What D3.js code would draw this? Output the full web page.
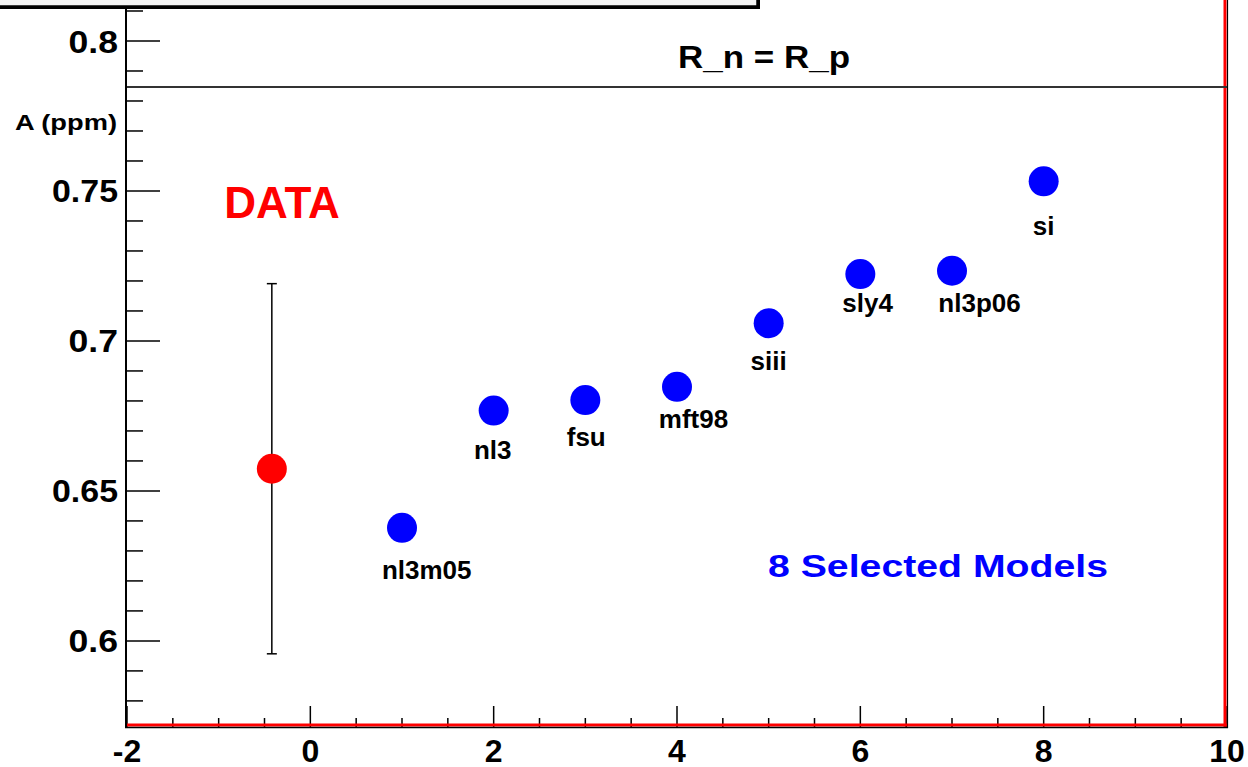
<!DOCTYPE html>
<html>
<head>
<meta charset="utf-8">
<script src="https://cdn.jsdelivr.net/npm/d3@7"></script>
<style>
  body { margin: 0; background: #fff; }
  text { font-family: "Liberation Sans", Arial, Helvetica, sans-serif; font-weight: bold; }
</style>
</head>
<body>
<div id="wrapper"></div>
<script>
// model points
const models = ["nl3m05", "nl3", "fsu", "mft98", "siii", "sly4", "nl3p06", "si"];
const modelX = [1, 2, 3, 4, 5, 6, 7, 8];
const modelA = [0.6377, 0.6768, 0.6803, 0.6847, 0.7059, 0.7223, 0.7234, 0.7532];
// where the model names sit (data units)
const labelX = [1.27, 1.99, 3.01, 4.18, 5.0, 6.08, 7.3, 8.0];
const labelY = [0.6237, 0.6638, 0.668, 0.6742, 0.6933, 0.7127, 0.7127, 0.7383];

// measured value
const dataX = [-0.42];
const dataA = [0.6574];
const dataErr = [0.0617];

// R_n = R_p reference line
const refA = 0.7847;

const xMajor = [-2, 0, 2, 4, 6, 8, 10];
const yMajor = [0.6, 0.65, 0.7, 0.75, 0.8];

dimensions = {
  width: 1248,
  height: 767,
  left: 127, right: 1227,
  bottom: 727
}

wrapper = d3.select("#wrapper").append("svg");
wrapper.attr("width", dimensions.width);
wrapper.attr("height", dimensions.height);
container = wrapper.append("g");

xScale = d3.scaleLinear().domain([-2, 10]).range([dimensions.left, dimensions.right]);
yScale = d3.scaleLinear().domain([0.5713, 0.82]).range([dimensions.bottom, -19]);

// minor ticks
const xMinor = d3.range(-2, 10.001, 0.5).filter(v => Math.abs(v / 2 - Math.round(v / 2)) > 1e-6);
const yMinor = d3.range(0.58, 0.815, 0.01).filter(v => !yMajor.some(m => Math.abs(m - v) < 1e-6));

// x axis ticks (inward)
container.append("g").selectAll("line.xmaj").data(xMajor).enter().append("line")
  .attr("x1", d => xScale(d)).attr("x2", d => xScale(d))
  .attr("y1", dimensions.bottom).attr("y2", dimensions.bottom - 21)
  .attr("stroke", "#000").attr("stroke-width", 1.5);
container.append("g").selectAll("line.xmin").data(xMinor).enter().append("line")
  .attr("x1", d => xScale(d)).attr("x2", d => xScale(d))
  .attr("y1", dimensions.bottom).attr("y2", dimensions.bottom - 9)
  .attr("stroke", "#000").attr("stroke-width", 1.5);

// y axis ticks (inward)
container.append("g").selectAll("line.ymaj").data(yMajor).enter().append("line")
  .attr("x1", 126).attr("x2", 126 + 34)
  .attr("y1", d => yScale(d)).attr("y2", d => yScale(d))
  .attr("stroke", "#000").attr("stroke-width", 1.5);
container.append("g").selectAll("line.ymin").data(yMinor).enter().append("line")
  .attr("x1", 126).attr("x2", 126 + 17)
  .attr("y1", d => yScale(d)).attr("y2", d => yScale(d))
  .attr("stroke", "#000").attr("stroke-width", 1.5);

// tick labels
container.append("g").selectAll("text").data(xMajor).enter().append("text")
  .attr("x", d => xScale(d)).attr("y", dimensions.bottom + 35)
  .attr("text-anchor", "middle").style("font-size", "32px")
  .text(d => d);
container.append("g").selectAll("text").data(yMajor).enter().append("text")
  .attr("x", 118).attr("y", d => yScale(d)).attr("dy", "0.36em")
  .attr("text-anchor", "end").style("font-size", "32px")
  .attr("textLength", d => d3.format("~g")(d).length * 16.5).attr("lengthAdjust", "spacingAndGlyphs")
  .text(d => d3.format("~g")(d));

// frame: red bottom/right, black axes
container.append("line").attr("x1", 126).attr("x2", 1228).attr("y1", dimensions.bottom - 2).attr("y2", dimensions.bottom - 2)
  .attr("stroke", "#ff0000").attr("stroke-width", 3);
container.append("line").attr("x1", 1225).attr("x2", 1225).attr("y1", 0).attr("y2", dimensions.bottom)
  .attr("stroke", "#ff0000").attr("stroke-width", 3);
container.append("line").attr("x1", 1227.5).attr("x2", 1227.5).attr("y1", 0).attr("y2", dimensions.bottom + 1)
  .attr("stroke", "#000").attr("stroke-width", 1.2);
container.append("line").attr("x1", 125).attr("x2", 1228).attr("y1", dimensions.bottom + 0.5).attr("y2", dimensions.bottom + 0.5)
  .attr("stroke", "#000").attr("stroke-width", 1.3);
container.append("line").attr("x1", 126).attr("x2", 126).attr("y1", 0).attr("y2", dimensions.bottom + 1)
  .attr("stroke", "#000").attr("stroke-width", 2);

// R_n = R_p line
container.append("line")
  .attr("x1", xScale(-2)).attr("x2", xScale(10))
  .attr("y1", yScale(refA)).attr("y2", yScale(refA))
  .attr("stroke", "#333").attr("stroke-width", 2);
container.append("text").attr("x", 764).attr("y", 68)
  .attr("text-anchor", "middle").style("font-size", "32px")
  .attr("textLength", 172).attr("lengthAdjust", "spacingAndGlyphs")
  .text("R_n = R_p");

// axis title
container.append("text").attr("x", 15).attr("y", 130)
  .style("font-size", "22px")
  .attr("textLength", 102).attr("lengthAdjust", "spacingAndGlyphs")
  .text("A (ppm)");

// data error bar
const eb = container.append("g").selectAll("g").data(dataX.map((x, i) => ({x: x, a: dataA[i], e: dataErr[i]}))).enter();
eb.append("line")
  .attr("x1", d => xScale(d.x)).attr("x2", d => xScale(d.x))
  .attr("y1", d => yScale(d.a + d.e)).attr("y2", d => yScale(d.a - d.e))
  .attr("stroke", "#000").attr("stroke-width", 1.5);
eb.append("line")
  .attr("x1", d => xScale(d.x) - 5).attr("x2", d => xScale(d.x) + 5)
  .attr("y1", d => yScale(d.a + d.e)).attr("y2", d => yScale(d.a + d.e))
  .attr("stroke", "#000").attr("stroke-width", 1.5);
eb.append("line")
  .attr("x1", d => xScale(d.x) - 5).attr("x2", d => xScale(d.x) + 5)
  .attr("y1", d => yScale(d.a - d.e)).attr("y2", d => yScale(d.a - d.e))
  .attr("stroke", "#000").attr("stroke-width", 1.5);
eb.append("circle")
  .attr("cx", d => xScale(d.x)).attr("cy", d => yScale(d.a))
  .attr("r", 15).attr("fill", "#ff0000");

// model points
container.append("g").selectAll("circle").data(modelX).enter().append("circle")
  .attr("cx", d => xScale(d)).attr("cy", (d, i) => yScale(modelA[i]))
  .attr("r", 15).attr("fill", "#0000ff");
container.append("g").selectAll("text").data(models).enter().append("text")
  .attr("x", (d, i) => xScale(labelX[i])).attr("y", (d, i) => yScale(labelY[i]))
  .attr("dy", "0.36em").attr("text-anchor", "middle")
  .style("font-size", "26px").attr("fill", "#000")
  .text(d => d);

// annotations
container.append("text").attr("x", 282).attr("y", 218)
  .attr("text-anchor", "middle").style("font-size", "44px").attr("fill", "#ff0000")
  .text("DATA");
container.append("text").attr("x", 768).attr("y", 577)
  .style("font-size", "32px").attr("fill", "#0000ff")
  .attr("textLength", 340).attr("lengthAdjust", "spacingAndGlyphs")
  .text("8 Selected Models");

// title box at the top-left (cut off by the picture edge)
container.append("rect").attr("x", -10).attr("y", -40).attr("width", 770).attr("height", 49)
  .attr("fill", "#000");
container.append("rect").attr("x", -10).attr("y", -40).attr("width", 767).attr("height", 46)
  .attr("fill", "#f4f4f4").attr("stroke", "#000").attr("stroke-width", 1.5);
</script>
</body>
</html>
